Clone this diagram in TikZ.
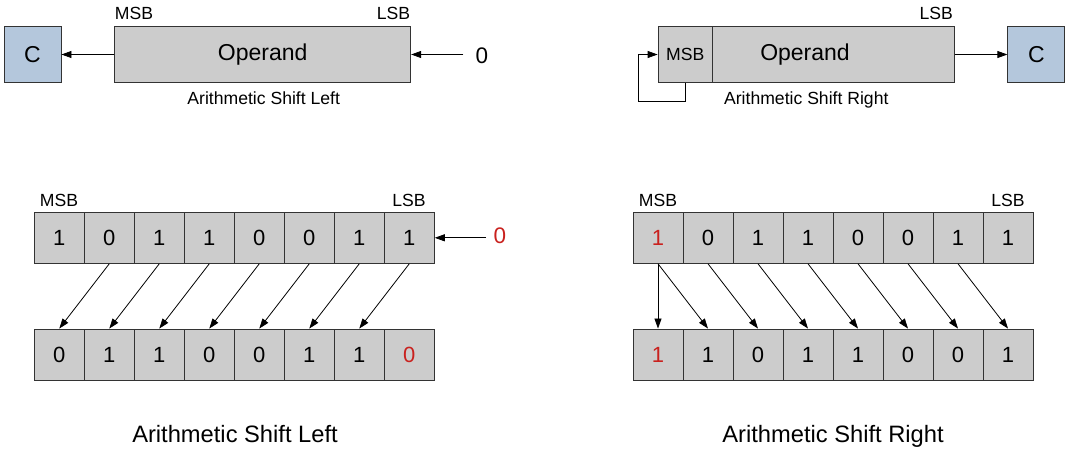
\documentclass[tikz,border=0pt]{standalone}
\usepackage{fontspec}
\setmainfont{Liberation Sans}
\usetikzlibrary{arrows.meta}
\definecolor{cellgray}{HTML}{CCCCCC}
\definecolor{cblue}{HTML}{B4C7DC}
\definecolor{edge}{HTML}{333333}
\definecolor{bitred}{HTML}{C9211E}
\tikzset{
  arr/.style={draw=black, line width=0.8pt, -{Triangle[length=10pt,width=7pt]}},
  cell/.style={draw=edge, line width=0.9pt, fill=cellgray, minimum width=50pt, minimum height=51pt, inner sep=0pt, font=\fontsize{22}{22}\selectfont},
  opbox/.style={draw=edge, line width=0.9pt, fill=cellgray, minimum width=296pt, minimum height=55.5pt, inner sep=0pt, font=\fontsize{23}{23}\selectfont},
  cbox/.style={draw=edge, line width=0.9pt, fill=cblue, minimum width=57pt, minimum height=55.5pt, inner sep=0pt, font=\fontsize{23}{23}\selectfont},
  small/.style={font=\fontsize{17.6}{18}\selectfont, inner sep=0pt, anchor=base},
  big/.style={font=\fontsize{23.7}{24}\selectfont, inner sep=0pt, anchor=base},
  digit/.style={font=\fontsize{22.5}{23}\selectfont, inner sep=0pt, anchor=base},
}
\begin{document}
\begin{tikzpicture}[x=1pt,y=-1pt]
\useasboundingbox (0,0) rectangle (1068,450);
% ---------- top left ----------
\node[cbox] (cl) at (32.5,54.5) {C};
\node[opbox] (opl) at (262.7,54.5) {Operand};
\node[small] (msbl) at (134,19.3) {MSB};
\node[small] (lsbl) at (393.5,19.3) {LSB};
\node[digit] (zl) at (482,63.3) {0};
\coordinate (zlstart) at (463.3,54.5);
\node[small] (capl) at (263.7,104) {Arithmetic Shift Left};
\draw[arr] (opl.west) -- (cl.east);
\draw[arr] (zlstart) -- (opl.east);
% ---------- top right ----------
\node[opbox, text width=0pt, align=center] (opr) at (806.3,54.5) {};
\node[font=\fontsize{23}{23}\selectfont, inner sep=0pt] (oprt) at (805,54.5) {Operand};
\node[draw=edge, line width=0.9pt, fill=cellgray, minimum width=54.3pt, minimum height=55.5pt, inner sep=0pt, font=\fontsize{17.6}{18}\selectfont] (msbr) at (685.2,54.5) {MSB};
\node[cbox] (cr) at (1036.3,54.5) {C};
\node[small] (lsbr) at (936.3,19.3) {LSB};
\node[small] (capr) at (806.3,104) {Arithmetic Shift Right};
\draw[arr] (opr.east) -- (cr.west);
\draw[arr] (msbr.south) -- ++(0,18.5) -| ([xshift=-19.3pt]msbr.west) -- (msbr.west);
% ---------- bottom left ----------
\foreach \v [count=\i from 0] in {1,0,1,1,0,0,1,1}
  \node[cell] (a\i) at ({59.3+50*\i},237.8) {\v};
\foreach \v [count=\i from 0] in {0,1,1,0,0,1,1,\textcolor{bitred}{0}}
  \node[cell] (b\i) at ({59.3+50*\i},354.5) {\v};
\node[small] (msbbl) at (59,206) {MSB};
\node[small] (lsbbl) at (409,206) {LSB};
\node[digit, text=bitred] (zbl) at (500,243.3) {0};
\coordinate (zblstart) at (486,237.8);
\draw[arr] (zblstart) -- (a7.east);
\foreach \i [evaluate=\i as \j using int(\i-1)] in {1,...,7}
  \draw[arr] (a\i.south) -- (b\j.north);
\node[big] (capbl) at (235,442) {Arithmetic Shift Left};
% ---------- bottom right ----------
\foreach \v [count=\i from 0] in {\textcolor{bitred}{1},0,1,1,0,0,1,1}
  \node[cell] (c\i) at ({658+50*\i},237.8) {\v};
\foreach \v [count=\i from 0] in {\textcolor{bitred}{1},1,0,1,1,0,0,1}
  \node[cell] (d\i) at ({658+50*\i},354.5) {\v};
\node[small] (msbbr) at (658,206) {MSB};
\node[small] (lsbbr) at (1008,206) {LSB};
\draw[arr] (c0.south) -- (d0.north);
\foreach \i [evaluate=\i as \j using int(\i+1)] in {0,...,6}
  \draw[arr] (c\i.south) -- (d\j.north);
\node[big] (capbr) at (833,442) {Arithmetic Shift Right};
\end{tikzpicture}
\end{document}
